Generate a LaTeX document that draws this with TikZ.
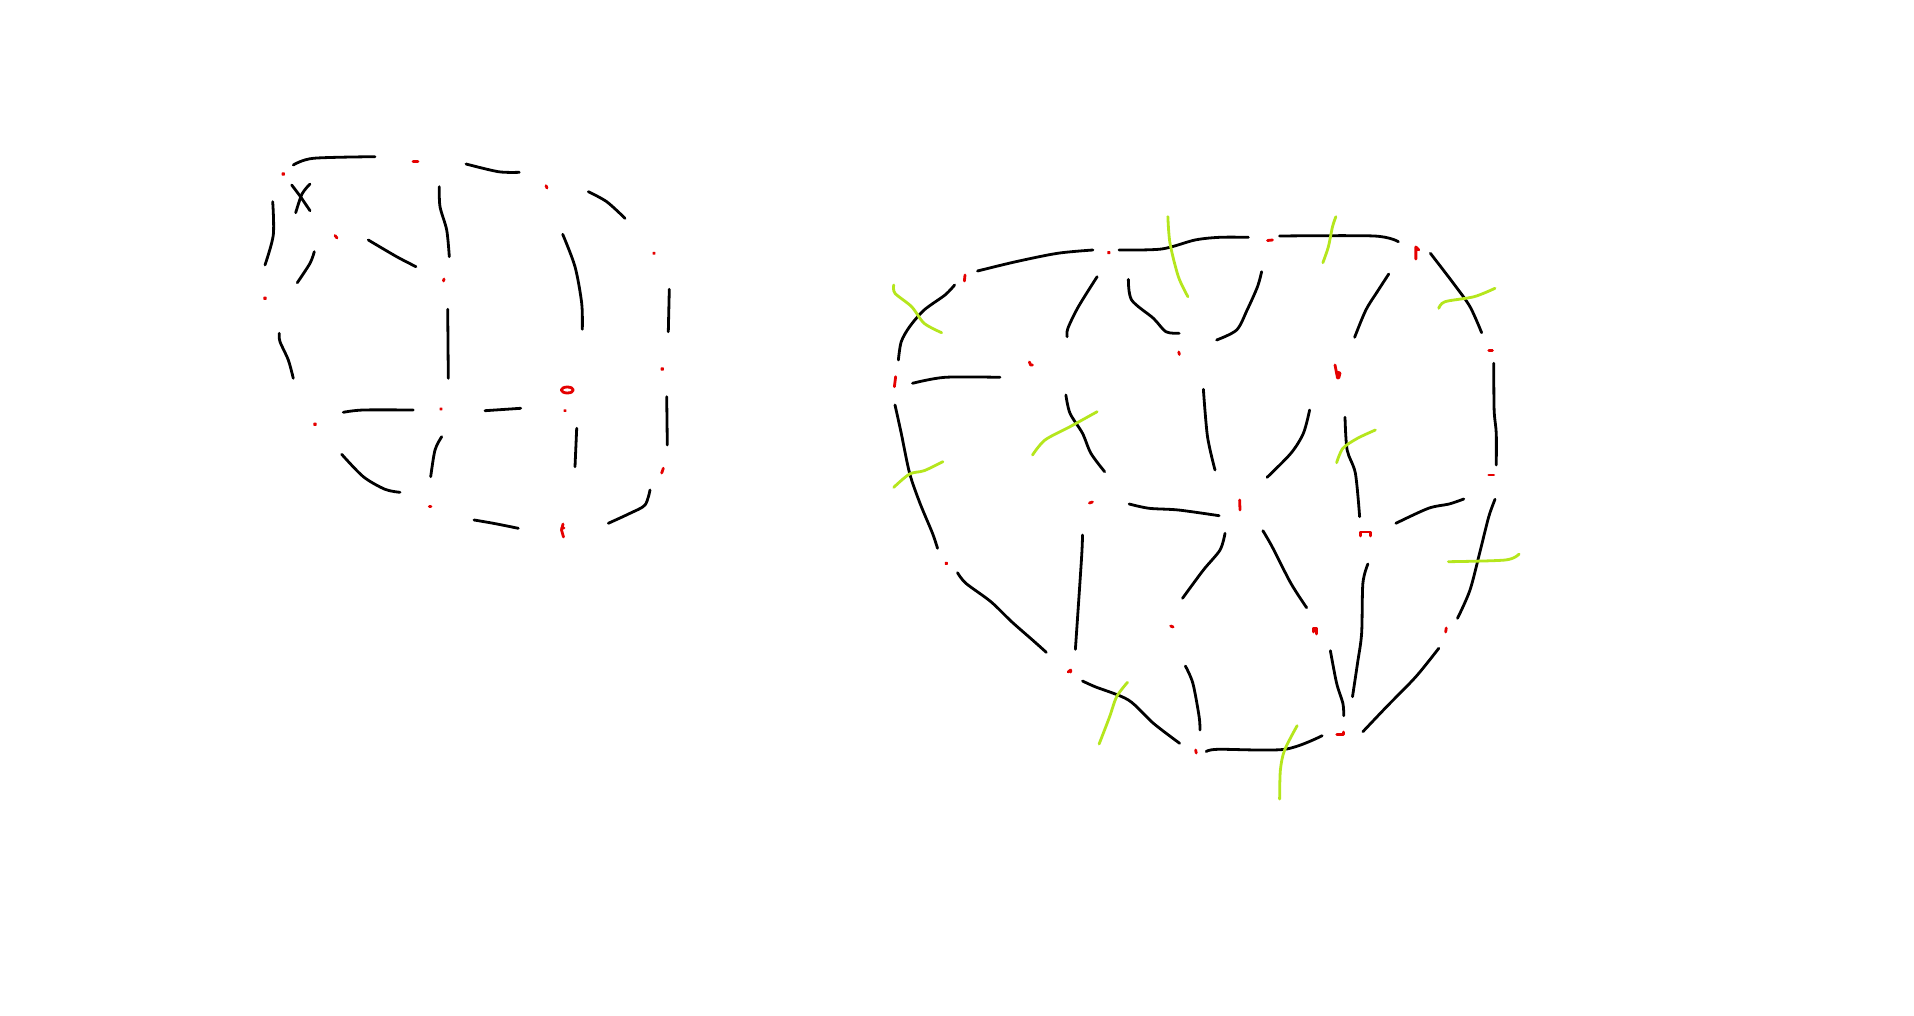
\documentclass[tikz,border=0pt]{standalone}
\begin{document}
\begin{tikzpicture}[x=1pt,y=-1pt,
  ink/.style={black,line width=2.8pt,line cap=round,line join=round},
  redm/.style={red!90!black,line width=2.8pt,line cap=round,line join=round},
  grn/.style={color={rgb,255:red,181;green,230;blue,29},line width=2.8pt,line cap=round,line join=round}]
\useasboundingbox[fill=white] (0,0) rectangle (1914,1016);
% ---------- left figure ----------
\draw[ink] plot[smooth] coordinates {(293.3,165)(313.3,158.3)(375,156.7)};
\draw[ink] plot[smooth] coordinates {(466,164)(498.3,171.7)(519.3,172.3)};
\draw[ink] plot[smooth] coordinates {(588.3,191.7)(606.7,201.7)(625,218.3)};
\draw[ink] (669.3,289.3) -- (668.3,331.7);
\draw[ink] (666.7,396.7) -- (667.3,445);
\draw[ink] plot[smooth] coordinates {(650,490)(645,505)(630,513.3)(608.3,523.3)};
\draw[ink] plot[smooth] coordinates {(518.3,528.3)(493.3,523.3)(474,520)};
\draw[ink] plot[smooth] coordinates {(400,492.3)(385,489.3)(363.3,476.7)(341.7,454.3)};
\draw[ink] plot[smooth] coordinates {(293.3,378.3)(288.3,360)(280,341.7)(279.3,333.3)};
\draw[ink] plot[smooth] coordinates {(265,265)(273.3,235)(272.7,201.7)};
\draw[ink] plot[smooth] coordinates {(291.7,185)(300,196)(310,210.7)};
\draw[ink] plot[smooth] coordinates {(310,184)(302,194)(295.7,212.7)};
\draw[ink] plot[smooth] coordinates {(314.3,251.7)(310,263.3)(297.3,282.7)};
\draw[ink] plot[smooth] coordinates {(368.3,240)(396.7,256.7)(416,266.7)};
\draw[ink] plot[smooth] coordinates {(439.3,186.7)(440,206.7)(446.7,230)(449.3,256.7)};
\draw[ink] (447.7,309.3) -- (448.3,378.3);
\draw[ink] plot[smooth] coordinates {(343.3,412.3)(363.3,410)(413.3,410)};
\draw[ink] (485,410.7) -- (520.7,408.3);
\draw[ink] plot[smooth] coordinates {(562.7,234.3)(575,266.7)(581.7,303.3)(582.3,329.3)};
\draw[ink] (576.7,428.3) -- (575,466.7);
\draw[ink] plot[smooth] coordinates {(441.7,436.7)(435,450)(430.7,476.7)};
% red marks left
\draw[redm] (413,161.7) -- (418,161.7);
\draw[redm] (546,185.7) -- (547,188);
\draw[redm] (654,253.3) circle (0.4pt);
\draw[redm] (662.3,369) circle (0.6pt);
\draw[redm] (663.3,468.3) -- (661.7,473);
\draw[redm] (563,524) -- (561.5,530) -- (563.5,537) (561.5,528) -- (564,528);
\draw[redm] (429.3,506.7) -- (431,506.7);
\draw[redm] (315,424.3) circle (0.6pt);
\draw[redm] (265,298.3) circle (0.6pt);
\draw[redm] (283.3,174) circle (0.6pt);
\draw[redm] (335,235.5) -- (337,238);
\draw[redm] (444,279) -- (443.5,281);
\draw[redm] (441,409) circle (0.3pt);
\draw[redm] (567.3,390) ellipse (6pt and 3pt);
\draw[redm] (565,410.7) circle (0.3pt);
% ---------- right figure ----------
\begin{scope}[x=1.25pt,xshift=-217.5pt]
% outline
\draw[ink] plot[smooth] coordinates {(956,271)(986.7,261.7)(1020,253.3)(1048.3,250)};
\draw[ink] plot[smooth] coordinates {(1069.3,250)(1103.3,249)(1130,240)(1150,237.3)(1172.7,237.3)};
\draw[ink] plot[smooth] coordinates {(1197.7,236)(1273.3,236)(1292.7,241.7)};
\draw[ink] plot[smooth] coordinates {(1318.3,253.3)(1336.7,283.3)(1350,306.7)(1359.3,332.7)};
\draw[ink] plot[smooth] coordinates {(1369,363.3)(1369.3,410)(1371,433.3)(1371,465)};
\draw[ink] plot[smooth] coordinates {(892.7,360)(895,341.7)(901.7,326.7)(913.3,310)(930,295)(937.7,285)};
\draw[ink] plot[smooth] coordinates {(904,383.3)(930,377.3)(974,377.3)};
\draw[ink] plot[smooth] coordinates {(890,405)(895,433.3)(901.7,473.3)(910,503.3)(920,533.3)(924,548.3)};
\draw[ink] plot[smooth] coordinates {(940,572.7)(946.7,583.3)(966.7,601.7)(983.3,621.7)(1000,640)(1011,652.3)};
\draw[ink] plot[smooth] coordinates {(1040,681)(1050,686.7)(1076.7,700)(1096.7,723.3)(1117.7,743.3)};
\draw[ink] plot[smooth] coordinates {(1139,751.7)(1148.3,749.3)(1201.7,749.3)(1231.7,735.7)};
\draw[ink] plot[smooth] coordinates {(1264.3,731.7)(1283.3,706.7)(1306.7,676.7)(1325,648.3)};
\draw[ink] plot[smooth] coordinates {(1340,618.3)(1350,590)(1358.3,550)(1365,516.7)(1370,499.3)};
% inner
\draw[ink] plot[smooth] coordinates {(1051.7,276.7)(1036.7,306.7)(1028.3,328.3)(1027.7,336.7)};
\draw[ink] plot[smooth] coordinates {(1076.7,279.3)(1079.3,300)(1096.7,318.3)(1106.7,331.7)(1117.3,333.3)};
\draw[ink] plot[smooth] coordinates {(1183.3,271.7)(1180,286.7)(1171.7,310)(1163.3,330)(1147.3,340)};
\draw[ink] plot[smooth] coordinates {(1285,274)(1276.7,290)(1266.7,310)(1257.7,337.3)};
\draw[ink] plot[smooth] coordinates {(1026.7,395)(1030,413.3)(1040,433.3)(1046.7,453.3)(1057.7,471.7)};
\draw[ink] plot[smooth] coordinates {(1136.7,389.3)(1140,436.7)(1146,470)};
\draw[ink] plot[smooth] coordinates {(1221.7,410)(1216.7,433.3)(1206.7,453.3)(1187.7,477.3)};
\draw[ink] plot[smooth] coordinates {(1250,417.3)(1251.7,450)(1258.3,473.3)(1261.7,516.7)};
\draw[ink] plot[smooth] coordinates {(1077.3,504)(1093.3,508.3)(1116.7,510)(1149.3,515.7)};
\draw[ink] plot[smooth] coordinates {(1290.7,523.3)(1316.7,508.3)(1333.3,504)(1345,499)};
\draw[ink] plot[smooth] coordinates {(1040,535)(1039.3,556.7)(1035,636.7)(1034.3,649.3)};
\draw[ink] plot[smooth] coordinates {(1154,533.3)(1150,550)(1136.7,570)(1120,598.3)};
\draw[ink] plot[smooth] coordinates {(1184.3,530.7)(1191.7,546.7)(1206.7,583.3)(1219.3,607.7)};
\draw[ink] plot[smooth] coordinates {(1268.3,564)(1264.3,583.3)(1263.3,633.3)(1260,663.3)(1256,696.7)};
\draw[ink] plot[smooth] coordinates {(1122.3,666)(1128.3,683.3)(1133.3,716.7)(1134,730)};
\draw[ink] plot[smooth] coordinates {(1238.3,650.7)(1243.3,683.3)(1248.3,703.3)(1249,715.7)};
% red marks right
\draw[redm] (1061,252.7) circle (0.5pt);
\draw[redm] (1188,240.5) -- (1192,240);
\draw[redm] (1306.7,247) -- (1306.7,259) (1306.7,247) -- (1309,250);
\draw[redm] (1365,350.7) -- (1368,350.7);
\draw[redm] (1365,475) -- (1369,475);
\draw[redm] (946,275) -- (945.5,281);
\draw[redm] (890.5,376.7) -- (889.5,386.7);
\draw[redm] (997.5,362) -- (998.5,365) -- (1000,365);
\draw[redm] (1117,352) -- (1117.5,354.5);
\draw[redm] (1242,365) -- (1244,378) (1243.5,372) -- (1246,373) -- (1245,378);
\draw[redm] (1045.5,503) -- (1048,502);
\draw[redm] (1165.7,500) -- (1166,510);
\draw[redm] (1262.5,536) -- (1262.5,532) -- (1270.5,532) -- (1270.5,536);
\draw[redm] (931,563.3) circle (0.5pt);
\draw[redm] (1110.5,626) -- (1112.5,627);
\draw[redm] (1224.5,632) -- (1224.5,628) -- (1227.5,628) -- (1227.5,634);
\draw[redm] (1331,628) -- (1330.5,632);
\draw[redm] (1028.5,672) -- (1030.5,670) -- (1030.5,672);
\draw[redm] (1130.5,750) -- (1131,753);
\draw[redm] (1243.5,734.5) -- (1249,734.5) -- (1249,732);
% green strokes
\draw[grn] plot[smooth] coordinates {(1108.3,216.7)(1110,243.3)(1116.7,276.7)(1124.3,296.7)};
\draw[grn] plot[smooth] coordinates {(1242.7,216.7)(1240,226.7)(1236.7,246.7)(1232.3,262.7)};
\draw[grn] plot[smooth] coordinates {(889,285)(890,293.3)(903.3,306.7)(913.3,323.3)(927.3,332.7)};
\draw[grn] plot[smooth] coordinates {(1325,308.3)(1330,301.7)(1353.3,296.7)(1370,288.3)};
\draw[grn] plot[smooth] coordinates {(1000,455)(1010,440)(1030,426.7)(1051.7,411.7)};
\draw[grn] plot[smooth] coordinates {(889,487.3)(901.7,474)(913.3,470.7)(928.3,461.7)};
\draw[grn] plot[smooth] coordinates {(1243.3,462.7)(1248.3,448.3)(1260,438.3)(1274.3,430)};
\draw[grn] plot[smooth] coordinates {(1332.7,561.7)(1378.3,560)(1389.3,554)};
\draw[grn] plot[smooth] coordinates {(1053.3,744)(1061.7,716.7)(1067.3,696.7)(1076,682.3)};
\draw[grn] plot[smooth] coordinates {(1197.7,799)(1198.3,770)(1201.7,750)(1211.7,725.7)};
\end{scope}
\end{tikzpicture}
\end{document}
